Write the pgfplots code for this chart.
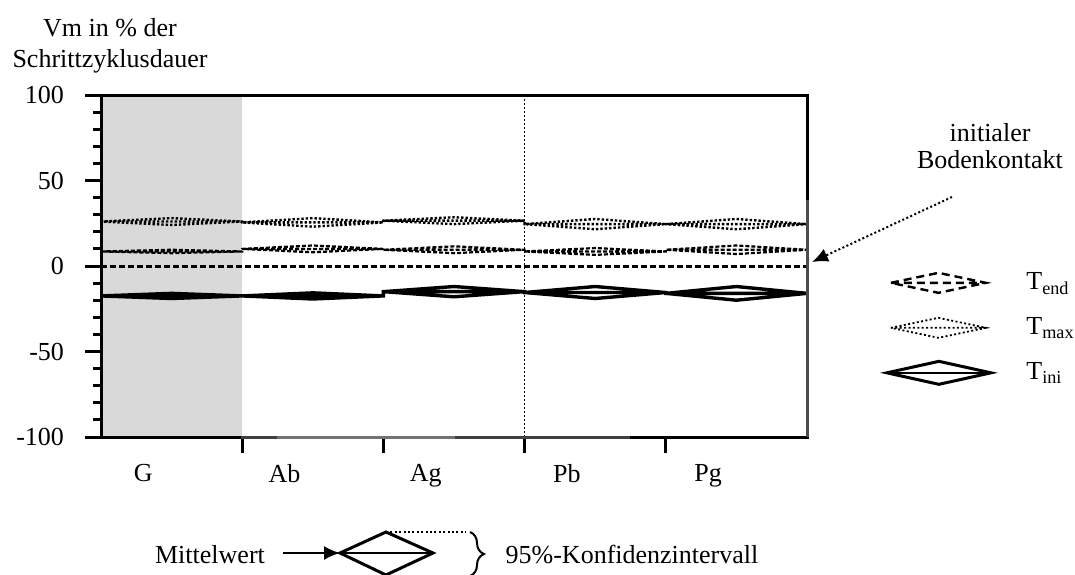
\documentclass[border=0pt]{standalone}
\usepackage{fontspec}
\setmainfont{Liberation Serif}
\usepackage{pgfplots}
\pgfplotsset{compat=1.18}
\usetikzlibrary{arrows.meta,decorations.pathreplacing}

\begin{document}
\fontsize{13}{15.5}\selectfont
\begin{tikzpicture}
\useasboundingbox (0,0) rectangle (537.5pt,287pt);
\begin{axis}[
  at={(50.5pt,68.5pt)}, anchor=south west,
  scale only axis, width=353pt, height=171pt,
  xmin=0, xmax=5, ymin=-100, ymax=100,
  axis on top,
  clip=false,
  axis line style={line width=1.5pt, black},
  xtick={1,2,3,4}, xticklabels={},
  extra x ticks={0.3,1.3,2.3,3.3,4.3},
  extra x tick labels={G,Ab,Ag,Pb,Pg},
  extra x tick style={major tick length=0pt, xticklabel style={yshift=-9pt}},
  ytick={-100,-50,0,50,100},
  minor y tick num=4,
  tick align=outside,
  xtick pos=bottom, ytick pos=left,
  major tick length=8pt, minor tick length=4pt,
  every tick/.append style={line width=1.5pt, black},
  ticklabel style={font=\fontsize{13}{15.5}\selectfont},
  /pgf/number format/assume math mode=true,
  yticklabel style={xshift=-6pt},
  legend style={draw=none, fill=none, inner sep=0pt,
    at={(rel axis cs:1.1105,0.49)}, anchor=north west,
    row sep=9.5pt,
    nodes={inner sep=0pt, text height=10pt, text depth=3pt},
    /tikz/every odd column/.append style={column sep=17pt},
    font=\fontsize{13}{15.5}\selectfont},
  legend cell align=left,
]
\fill[black!15] (axis cs:0,-100) rectangle (axis cs:1,100);
\draw[black, line width=0.7pt, dash pattern=on 1pt off 1pt] (axis cs:3,-100) -- (axis cs:3,100);

% zero reference line
\addplot[black, line width=1.5pt, dash pattern=on 3pt off 1.5pt, forget plot] coordinates {(0,0) (5,0)};

% T_end
\addplot[black, line width=1.1pt, dash pattern=on 2pt off 1pt,
  legend image code/.code={
    \draw[black, line width=1.2pt, dash pattern=on 4pt off 2.5pt] (0pt,0pt) -- (23.75pt,5pt) -- (47.5pt,0pt) -- (23.75pt,-5pt) -- cycle (0pt,0pt) -- (47.5pt,0pt);}]
coordinates {
(0,8.5)(0.5,9.5)(1,8.5)(0.5,7.5)(0,8.5)(1,8.5)
(1,10)(1.5,12)(2,10)(1.5,8)(1,10)(2,10)
(2,9.5)(2.5,11.5)(3,9.5)(2.5,7.5)(2,9.5)(3,9.5)
(3,8.5)(3.5,10.5)(4,8.5)(3.5,6.5)(3,8.5)(4,8.5)
(4,9.5)(4.5,12)(5,9.5)(4.5,7)(4,9.5)(5,9.5)
};
\addlegendentry{T\textsubscript{end}}

% T_max
\addplot[black, line width=1.2pt, dash pattern=on 1.2pt off 1pt,
  legend image code/.code={
    \draw[black, line width=0.9pt, dash pattern=on 1pt off 1.2pt] (0pt,0pt) -- (23.75pt,5pt) -- (47.5pt,0pt) -- (23.75pt,-5pt) -- cycle (0pt,0pt) -- (47.5pt,0pt);}]
coordinates {
(0,26)(0.5,28)(1,26)(0.5,24)(0,26)(1,26)
(1,25.5)(1.5,28)(2,25.5)(1.5,23)(1,25.5)(2,25.5)
(2,26.5)(2.5,28.5)(3,26.5)(2.5,24.5)(2,26.5)(3,26.5)
(3,24.5)(3.5,27.5)(4,24.5)(3.5,21.5)(3,24.5)(4,24.5)
(4,24.5)(4.5,27.5)(5,24.5)(4.5,21.5)(4,24.5)(5,24.5)
};
\addlegendentry{T\textsubscript{max}}

% T_ini
\addplot[black, line width=1.7pt,
  legend image code/.code={
    \draw[black, line width=1.5pt] (-2pt,0pt) -- (24pt,5.75pt) -- (50pt,0pt) -- (24pt,-5.75pt) -- cycle;
    \draw[black, line width=0.8pt] (-2pt,0pt) -- (50pt,0pt);}]
coordinates {
(0,-17.5)(0.5,-16)(1,-17.5)(0.5,-19)(0,-17.5)(1,-17.5)
(1,-17.5)(1.5,-15.7)(2,-17.5)(1.5,-19.3)(1,-17.5)(2,-17.5)
(2,-15)(2.5,-12)(3,-15)(2.5,-18)(2,-15)(3,-15)
(3,-15.5)(3.5,-12)(4,-15.5)(3.5,-19)(3,-15.5)(4,-15.5)
(4,-16)(4.5,-12)(5,-16)(4.5,-20)(4,-16)(5,-16)
};
\addlegendentry{T\textsubscript{ini}}
\end{axis}

\begin{scope}[x=0.5pt, y=-0.5pt, yshift=287pt]
  % shades of the scanned frame
  \draw[black!55, line width=1.5pt] (277,437) -- (455,437);
  \draw[black!75, line width=1.5pt] (241,437) -- (277,437) (455,437) -- (630,437);
  \draw[black!70, line width=1.5pt] (807,200) -- (807,437);
  % y axis title
  \node[anchor=base, inner sep=0pt] at (110,37) {Vm in \% der};
  \node[anchor=base, inner sep=0pt] at (110,68) {Schrittzyklusdauer};
  % initial contact annotation
  \node[anchor=base, inner sep=0pt] at (990,142) {initialer};
  \node[anchor=base, inner sep=0pt] at (990,169) {Bodenkontakt};
  \draw[black, line width=1pt, dash pattern=on 1pt off 1.2pt, -{Latex[length=8pt,width=7pt]}] (952,197) -- (812,262);
  % explanation at bottom
  \node[anchor=base, inner sep=0pt] at (210,563) {Mittelwert};
  \draw[black, line width=1pt, -{Latex[length=8pt,width=7pt]}] (283,553) -- (340,553);
  \draw[black, line width=1.5pt] (340,553) -- (386,532) -- (433,553) -- (386,575) -- cycle;
  \draw[black, line width=0.8pt] (340,553) -- (433,553);
  \draw[black, line width=1pt, dash pattern=on 1pt off 1.2pt] (386,532) -- (466,532);
  \draw[black, line width=1pt, decorate, decoration={brace, amplitude=7pt}] (470,532) -- (470,576);
  \node[anchor=base, inner sep=0pt] at (632,563) {95\%-Konfidenzintervall};
\end{scope}
\end{tikzpicture}
\end{document}
